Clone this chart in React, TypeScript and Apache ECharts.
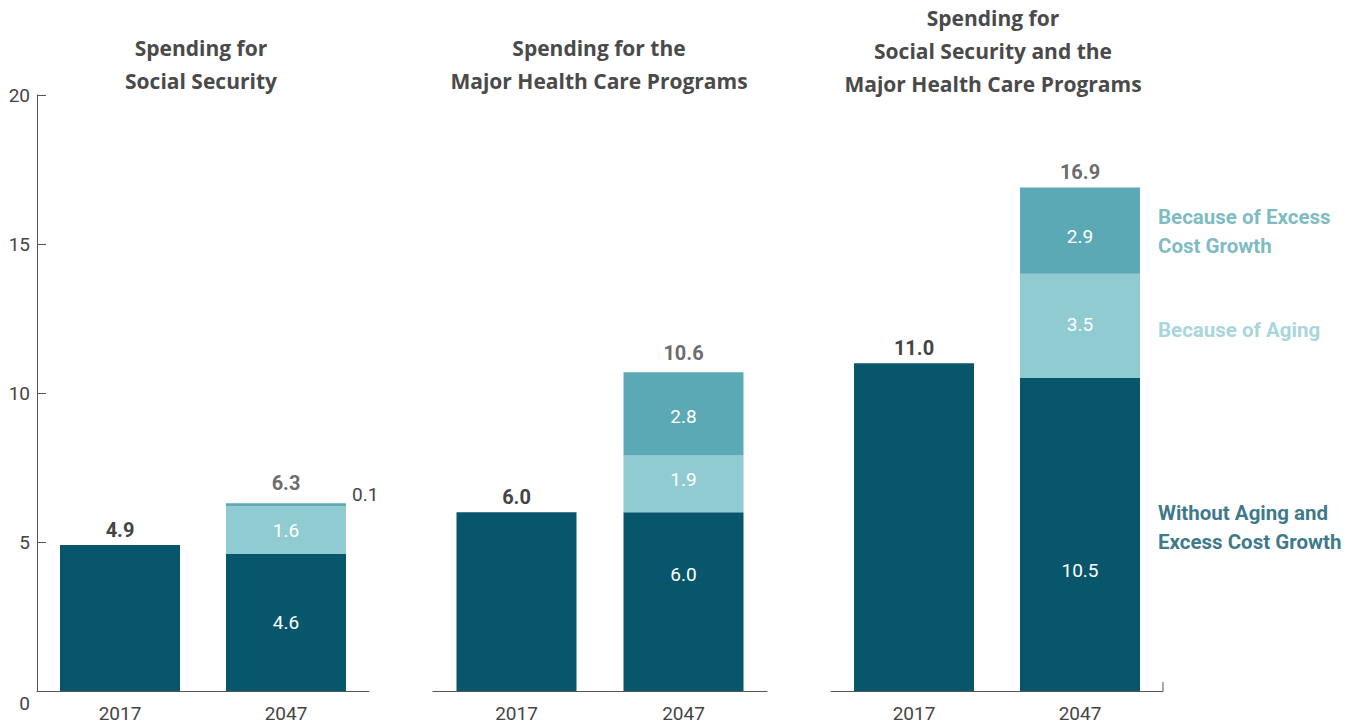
import React, { useEffect, useRef } from "react";
import * as echarts from "echarts";

const years = ["2017", "2047"];
const titles = [
  "Spending for\nSocial Security",
  "Spending for the\nMajor Health Care Programs",
  "Spending for\nSocial Security and the\nMajor Health Care Programs",
];
const spending2017 = [4.9, 6.0, 11.0];
const base2047 = [4.6, 6.0, 10.5];
const aging2047 = [1.6, 1.9, 3.5];
const excess2047 = [0.1, 2.8, 2.9];
const total2047 = [6.3, 10.6, 16.9];
const sideLabels = [
  "Because of Excess\nCost Growth",
  "Because of Aging",
  "Without Aging and\nExcess Cost Growth",
];

const DARK = "#08566B";
const MID = "#5BA9B4";
const LIGHT = "#90CBD1";
const TEXT = "#444444";
const FONT = "Roboto";
const TFONT = "Open Sans";

const gridLefts = [37, 433, 831];
const gridWidths = [332, 334, 332];
const titleCenters = [201, 599, 993];
const titleTops = [31, 31, 1];
// vertical nudges of the inside labels (style only)
const baseLabelDy = [0, -27, 36];
const agingLabelDy = [0, -4, -1];
const excessLabelDy = [0, 3, 6];
const totalLabelDistance = [10, 9, 5];

export default function App() {
  const ref = useRef<HTMLDivElement>(null);
  useEffect(() => {
    if (!ref.current) return;
    const chart = echarts.init(ref.current, undefined, { renderer: "svg" });
    const fmt = (p: any) => Number(Array.isArray(p.value) ? p.value[1] : p.value).toFixed(1);
    const grids: any[] = [];
    const xAxes: any[] = [];
    const yAxes: any[] = [];
    const series: any[] = [];
    const title: any[] = [];
    for (let i = 0; i < 3; i++) {
      grids.push({ left: gridLefts[i], width: gridWidths[i], top: 95, height: 596 });
      title.push({
        text: titles[i],
        left: titleCenters[i],
        top: titleTops[i],
        textAlign: "center",
        padding: 0,
        textStyle: { fontFamily: TFONT, fontSize: 21, fontWeight: "bold", color: "#4a4a4a", lineHeight: 33 },
      });
      xAxes.push({
        type: "category",
        gridIndex: i,
        data: years,
        axisLine: { show: true, lineStyle: { color: "#555", width: 1 } },
        axisTick: { show: false },
        axisLabel: { color: TEXT, fontFamily: FONT, fontSize: 19, margin: 13 },
      });
      yAxes.push({
        type: "value",
        gridIndex: i,
        min: 0,
        max: 20,
        interval: 5,
        show: i === 0,
        splitLine: { show: false },
        axisLine: { show: true, lineStyle: { color: "#555", width: 1 } },
        axisTick: { show: true, inside: true, length: 9, lineStyle: { color: "#555" } },
        axisLabel: {
          color: TEXT,
          fontFamily: FONT,
          fontSize: 19,
          margin: 7,
          formatter: (v: number) => (v === 0 ? "{z|0}" : String(v)),
          rich: { z: { fontFamily: FONT, fontSize: 19, color: TEXT, padding: [24, 0, 0, 0] } },
        },
      });
      const inside = (dy: number) => ({
        show: true,
        position: "inside",
        offset: [0, dy],
        color: "#fff",
        fontFamily: FONT,
        fontSize: 19,
        formatter: fmt,
      });
      series.push({
        type: "bar",
        xAxisIndex: i,
        yAxisIndex: i,
        stack: "s" + i,
        barWidth: 120,
        itemStyle: { color: DARK },
        data: [
          {
            value: spending2017[i],
            label: { show: true, position: "top", distance: 5, color: TEXT, fontFamily: FONT, fontSize: 20, fontWeight: "bold", formatter: fmt },
          },
          { value: base2047[i], label: inside(baseLabelDy[i]) },
        ],
      });
      series.push({
        type: "bar",
        xAxisIndex: i,
        yAxisIndex: i,
        stack: "s" + i,
        barWidth: 120,
        itemStyle: { color: LIGHT },
        data: ["-", { value: aging2047[i], label: inside(agingLabelDy[i]) }],
      });
      series.push({
        type: "bar",
        xAxisIndex: i,
        yAxisIndex: i,
        stack: "s" + i,
        barWidth: 120,
        itemStyle: { color: MID },
        data: [
          "-",
          {
            value: excess2047[i],
            label:
              i === 0
                ? { show: true, position: "right", distance: 6, offset: [0, -10], color: TEXT, fontFamily: FONT, fontSize: 19, formatter: fmt }
                : inside(excessLabelDy[i]),
          },
        ],
      });
      const top = base2047[i] + aging2047[i] + excess2047[i];
      series.push({
        type: "scatter",
        xAxisIndex: i,
        yAxisIndex: i,
        symbolSize: 0,
        silent: true,
        data: [
          {
            value: ["2047", top],
            label: {
              show: true,
              position: "top",
              distance: totalLabelDistance[i],
              color: TEXT,
              fontFamily: FONT,
              fontSize: 20,
              fontWeight: "bold",
              formatter: () => total2047[i].toFixed(1),
            },
          },
        ],
      });
    }
    const centers = [
      base2047[2] + aging2047[2] + excess2047[2] / 2,
      base2047[2] + aging2047[2] / 2,
      base2047[2] / 2,
    ];
    const sideColors = [MID, LIGHT, DARK];
    const sideOffsets = [[0, 1], [0, 4], [0, -7]];
    series.push({
      type: "scatter",
      xAxisIndex: 2,
      yAxisIndex: 2,
      symbolSize: 0,
      silent: true,
      data: centers.map((c, k) => ({
        value: ["2047", c],
        label: {
          show: true,
          position: "right",
          distance: 78,
          offset: sideOffsets[k],
          align: "left",
          color: sideColors[k],
          fontFamily: FONT,
          fontSize: 20.5,
          fontWeight: "bold",
          lineHeight: 29,
          formatter: () => sideLabels[k],
        },
      })),
    });
    chart.setOption({
      animation: false,
      title,
      grid: grids,
      xAxis: xAxes,
      yAxis: yAxes,
      series,
      graphic: [
        {
          type: "line",
          shape: { x1: 1163, y1: 682, x2: 1163, y2: 691 },
          style: { stroke: "#555", lineWidth: 1 },
        },
      ],
    });
    return () => chart.dispose();
  }, []);
  return <div ref={ref} style={{ width: 1354, height: 725, position: "absolute", left: 0, top: 0 }} />;
}
